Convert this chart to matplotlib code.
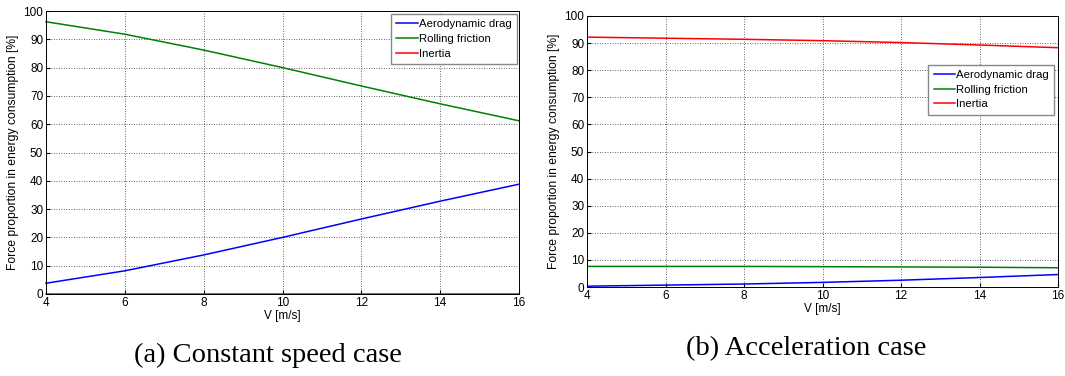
import matplotlib
matplotlib.use("Agg")
import matplotlib.pyplot as plt
import numpy as np

plt.rcParams['font.family'] = ['Liberation Sans', 'DejaVu Sans']

v = [4, 6, 8, 10, 12, 14, 16]
# (a) Constant speed case
a_aero = [3.8, 8.2, 13.8, 20.0, 26.5, 32.8, 38.8]
a_roll = [96.2, 91.8, 86.2, 80.0, 73.5, 67.2, 61.2]
a_inertia = [0, 0, 0, 0, 0, 0, 0]
# (b) Acceleration case
b_aero = [0.3, 0.7, 1.1, 1.7, 2.5, 3.5, 4.6]
b_roll = [7.6, 7.6, 7.6, 7.5, 7.4, 7.3, 7.1]
b_inertia = [92.2, 91.8, 91.4, 90.9, 90.2, 89.3, 88.3]

labels = ['Aerodynamic drag', 'Rolling friction', 'Inertia']
colors = ['#0000ff', '#008000', '#ff0000']
xticks = [4, 6, 8, 10, 12, 14, 16]
yticks = list(range(0, 101, 10))
captions = ['(a) Constant speed case', '(b) Acceleration case']

W, H = 1065, 376
fig = plt.figure(figsize=(W / 100, H / 100), dpi=100)

def px_axes(x0, y0, x1, y1):
    return fig.add_axes([x0 / W, 1 - y1 / H, (x1 - x0) / W, (y1 - y0) / H])

ax1 = px_axes(46, 11, 519, 294)
ax2 = px_axes(587, 16, 1058, 287)

for ax, series, anchor in [(ax1, [a_aero, a_roll, a_inertia], (0.996, 0.99)),
                           (ax2, [b_aero, b_roll, b_inertia], (0.992, 0.82))]:
    for s, lab, c in zip(series, labels, colors):
        ax.plot(v, s, color=c, lw=1.1, label=lab, clip_on=(ax is ax2))
    ax.set_xlim(4, 16)
    ax.set_ylim(0, 100)
    ax.set_xticks(xticks)
    ax.set_yticks(yticks)
    ax.grid(True, color='black', linestyle=(0, (1, 2)), linewidth=0.6, alpha=0.8)
    ax.tick_params(direction='in', labelsize=8.5, length=3, pad=2)
    ax.set_xlabel('V [m/s]', fontsize=8.5, labelpad=1)
    ax.set_ylabel('Force proportion in energy consumption [%]', fontsize=8.7, labelpad=3)
    for sp in ax.spines.values():
        sp.set_linewidth(0.7)
    leg = ax.legend(loc='upper right', bbox_to_anchor=anchor, fontsize=8.2, frameon=True,
                    fancybox=False, edgecolor='#888888', framealpha=1,
                    handlelength=1.9, handletextpad=0.1, borderpad=0.45,
                    labelspacing=0.42, borderaxespad=0.0)
    leg.get_frame().set_linewidth(1.0)

fig.text(268 / W, 1 - 355 / H, captions[0], fontsize=20.5, family='Liberation Serif',
         ha='center', va='center')
fig.text(806 / W, 1 - 349 / H, captions[1], fontsize=20.5, family='Liberation Serif',
         ha='center', va='center')

fig.savefig('out.png', dpi=100)
